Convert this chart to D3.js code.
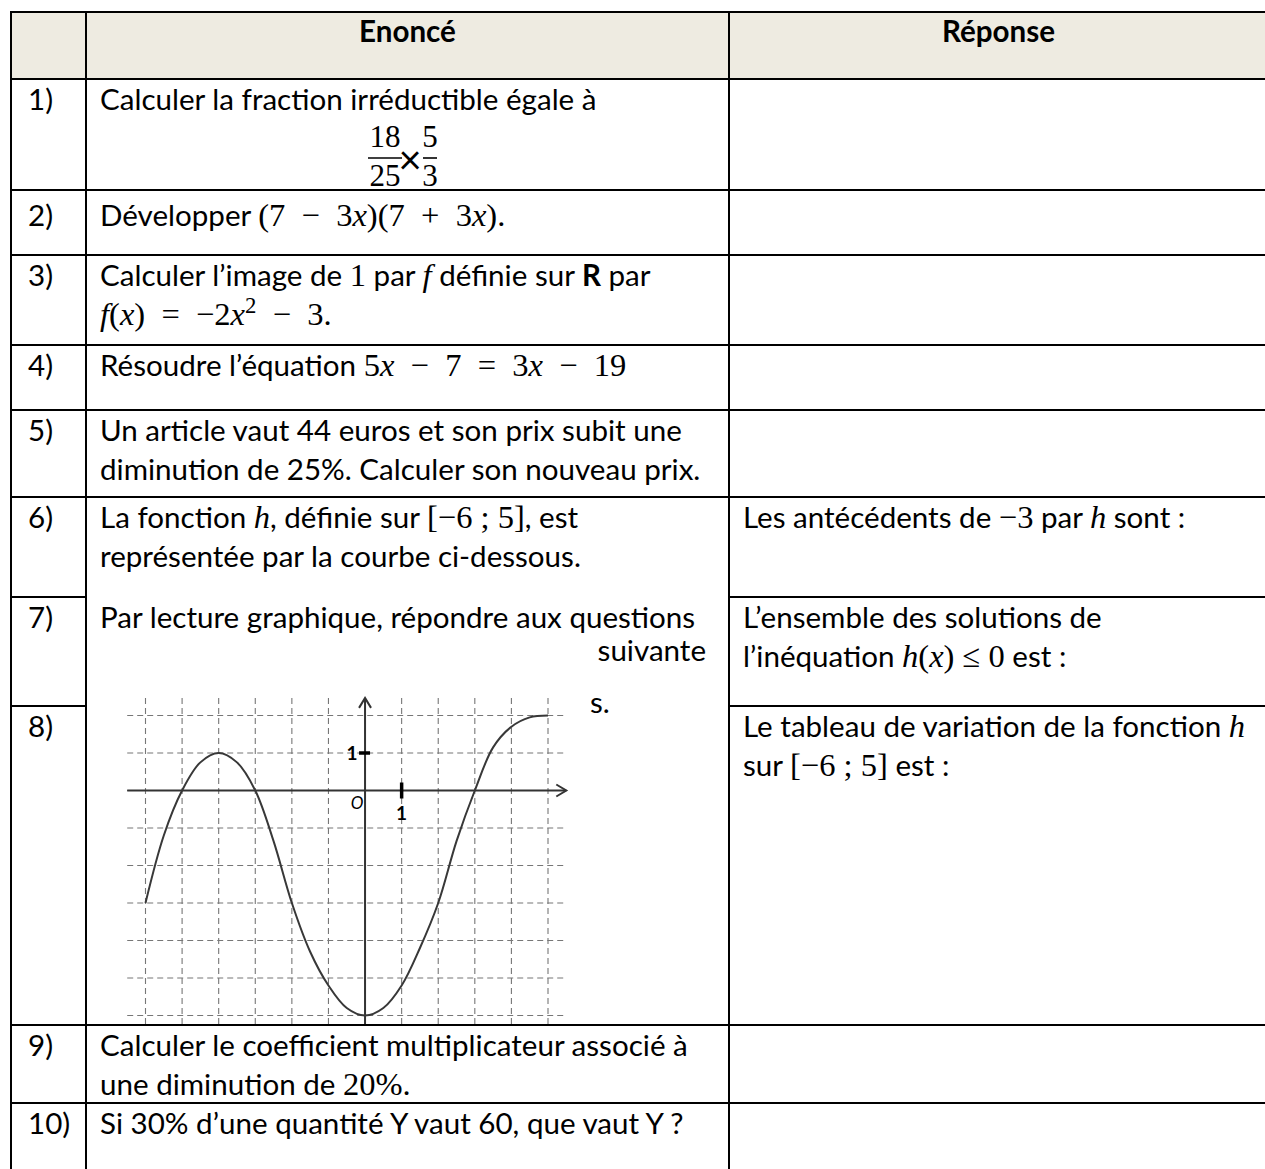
<!DOCTYPE html>
<html lang="fr">
<head>
<meta charset="UTF-8">
<title>Questions flash</title>
<script src="https://d3js.org/d3.v7.min.js"></script>
<style>
  body { margin: 0; background: #fff; }
  svg text { font-family: Lato, "Open Sans", sans-serif; fill: #000; }
  svg .m { font-family: "Liberation Serif", "DejaVu Serif", serif; }
</style>
</head>
<body>
<svg id="sheet" width="1265" height="1169"></svg>
<script>
const width = 1265, height = 1169;

// table layout
const colEdges = [11, 86, 729, 1268];
const rowEdges = [12, 79, 190, 255, 345, 410, 497, 597, 706, 1025, 1103, 1190];
const headers = ["", "Enoncé", "Réponse"];
const labels = ["1)", "2)", "3)", "4)", "5)", "6)", "7)", "8)", "9)", "10)"];

// texte : $...$ = maths, **...** = gras
const enonce = [
  ["Calculer la fraction irréductible égale à"],
  ["Développer $(7 − 3x)(7 + 3x).$"],
  ["Calculer l’image de $1$ par $f$ définie sur **R** par", "$f(x) = −2x^2 − 3.$"],
  ["Résoudre l’équation $5x − 7 = 3x − 19$"],
  ["Un article vaut 44 euros et son prix subit une", "diminution de 25%. Calculer son nouveau prix."],
  ["La fonction $h$, définie sur $[−6 ; 5]$, est", "représentée par la courbe ci-dessous."],
  ["Par lecture graphique, répondre aux questions"],
  [],
  ["Calculer le coefficient multiplicateur associé à", "une diminution de $20%.$"],
  ["Si 30% d’une quantité Y vaut 60, que vaut Y ?"]
];
const reponse = [
  [], [], [], [], [],
  ["Les antécédents de $−3$ par $h$ sont :"],
  ["L’ensemble des solutions de", "l’inéquation $h(x) ≤ 0$ est :"],
  ["Le tableau de variation de la fonction $h$", "sur $[−6 ; 5]$ est :"],
  [], []
];
const wrapTail = ["suivante", "s."];

// fraction 18/25 × 5/3
const fracA = ["18", "25"], fracB = ["5", "3"];

// courbe de h sur [−6 ; 5]
const hx = [-6, -5.5, -5, -4.5, -4, -3.5, -3, -2.5, -2, -1.5, -1, -0.5, 0, 0.5, 1, 1.5, 2, 2.5, 3, 3.5, 4, 4.5, 5];
const hy = [-3, -1.2, 0, 0.75, 1, 0.75, 0, -1.35, -3, -4.3, -5.2, -5.8, -6, -5.8, -5.2, -4.2, -3, -1.35, 0, 1.15, 1.7, 1.95, 2];
const gridX = d3.range(-6, 6);
const gridY = d3.range(-6, 3);

const svg = d3.select("#sheet");

// taille de police calée sur la largeur d'une ligne
const probe = svg.append("text").attr("font-size", 100).text(enonce[4][0]);
const fs = 100 * 582 / probe.node().getComputedTextLength();
probe.remove();
const lineGap = 39;
const mfs = fs * 1.1;

function writeLine(x, y, str, anchor) {
  const t = svg.append("text").attr("x", x).attr("y", y)
    .attr("font-size", fs).attr("text-anchor", anchor || "start");
  let pendingDy = 0;
  const add = (txt, opts) => {
    const s = t.append("tspan").text(txt);
    if (pendingDy) { s.attr("dy", pendingDy); pendingDy = 0; }
    Object.entries(opts).forEach(([k, v]) => s.attr(k, v));
    return s;
  };
  str.split("$").forEach((part, i) => {
    if (i % 2 === 0) {
      part.split("**").forEach((p, j) => {
        if (p) add(p, j % 2 ? { "font-weight": "bold" } : {});
      });
    } else {
      // espaces plus larges autour des opérateurs binaires
      part = part.replace(/ ([−+=]) /g, "\u2002$1\u2002");
      part.split(/([a-z]|\^\d)/).forEach(tok => {
        if (!tok) return;
        if (tok[0] === "^") {
          add(tok.slice(1), { class: "m", "font-size": mfs * 0.7, dy: -mfs * 0.38 });
          pendingDy = mfs * 0.38;
        } else if (/[a-z]/.test(tok)) {
          add(tok, { class: "m", "font-style": "italic", "font-size": mfs });
        } else {
          add(tok, { class: "m", "font-size": mfs });
        }
      });
    }
  });
  return t;
}

// fond de l'en-tête
svg.append("rect")
  .attr("x", colEdges[0]).attr("y", rowEdges[0])
  .attr("width", colEdges[3] - colEdges[0]).attr("height", rowEdges[1] - rowEdges[0])
  .attr("fill", "#eeebe1");

headers.forEach((h, i) => {
  if (!h) return;
  svg.append("text")
    .attr("x", (colEdges[i] + colEdges[i + 1]) / 2).attr("y", rowEdges[0] + 30)
    .attr("text-anchor", "middle").attr("font-size", fs).attr("font-weight", "bold")
    .text(h);
});

labels.forEach((lab, i) => {
  const top = rowEdges[i + 1];
  const base = top + 31 + (i === 1 ? 5 : 0);
  svg.append("text").attr("x", 28).attr("y", base).attr("font-size", fs).text(lab);
  enonce[i].forEach((line, k) => writeLine(100, base + k * lineGap, line));
  reponse[i].forEach((line, k) => writeLine(743, base + k * lineGap, line));
});

// reste de la ligne 7 coupée par l'image
writeLine(706, rowEdges[7] + 64, wrapTail[0], "end");
writeLine(590, rowEdges[7] + 116, wrapTail[1]);

// fraction
const fracY = rowEdges[1] + 68;
[[fracA, 385, 34], [fracB, 430, 14]].forEach(([f, cx, w]) => {
  svg.append("text").attr("class", "m").attr("x", cx).attr("y", fracY)
    .attr("text-anchor", "middle").attr("font-size", fs * 1.05).text(f[0]);
  svg.append("line").attr("x1", cx - w / 2).attr("x2", cx + w / 2)
    .attr("y1", fracY + 11).attr("y2", fracY + 11).attr("stroke", "#000").attr("stroke-width", 1.6);
  svg.append("text").attr("class", "m").attr("x", cx).attr("y", fracY + 39)
    .attr("text-anchor", "middle").attr("font-size", fs * 1.05).text(f[1]);
});
svg.append("text").attr("x", 410).attr("y", fracY + 27).attr("text-anchor", "middle")
  .attr("font-size", fs * 1.35).text("×");

// graphique
const x = d3.scaleLinear().domain([-6, 5]).range([145.5, 548]);
const y = d3.scaleLinear().domain([-6, 2]).range([1015.5, 715.5]);
const g = svg.append("g");

g.selectAll("line.gx").data(gridX).join("line").attr("class", "gx")
  .attr("x1", d => x(d)).attr("x2", d => x(d))
  .attr("y1", y(2.47)).attr("y2", rowEdges[9])
  .attr("stroke", "#777").attr("stroke-width", 1.1).attr("stroke-dasharray", "6,4");
g.selectAll("line.gy").data(gridY).join("line").attr("class", "gy")
  .attr("x1", x(-6.5)).attr("x2", x(5.5))
  .attr("y1", d => y(d)).attr("y2", d => y(d))
  .attr("stroke", "#777").attr("stroke-width", 1.1).attr("stroke-dasharray", "6,4");

// axes
g.append("line").attr("x1", x(-6.5)).attr("x2", x(5.5)).attr("y1", y(0)).attr("y2", y(0))
  .attr("stroke", "#333").attr("stroke-width", 2);
g.append("line").attr("x1", x(0)).attr("x2", x(0)).attr("y1", rowEdges[9]).attr("y2", y(2.47))
  .attr("stroke", "#333").attr("stroke-width", 2);
g.append("path")
  .attr("d", `M${x(5.5) - 10},${y(0) - 6}L${x(5.5)},${y(0)}L${x(5.5) - 10},${y(0) + 6}`)
  .attr("fill", "none").attr("stroke", "#333").attr("stroke-width", 2);
g.append("path")
  .attr("d", `M${x(0) - 6},${y(2.47) + 10}L${x(0)},${y(2.47)}L${x(0) + 6},${y(2.47) + 10}`)
  .attr("fill", "none").attr("stroke", "#333").attr("stroke-width", 2);

// graduations 1
g.append("line").attr("x1", x(0) - 6).attr("x2", x(0) + 5).attr("y1", y(1)).attr("y2", y(1))
  .attr("stroke", "#000").attr("stroke-width", 3.5);
g.append("line").attr("x1", x(1)).attr("x2", x(1)).attr("y1", y(0) - 8).attr("y2", y(0) + 8)
  .attr("stroke", "#000").attr("stroke-width", 3.5);
g.append("text").attr("x", x(0) - 13).attr("y", y(1) + 7).attr("text-anchor", "middle")
  .attr("font-family", "Liberation Sans").attr("font-weight", "bold").attr("font-size", 19).text("1");
g.append("text").attr("x", x(1)).attr("y", y(0) + 29).attr("text-anchor", "middle")
  .attr("font-family", "Liberation Sans").attr("font-weight", "bold").attr("font-size", 19).text("1");
g.append("text").attr("x", x(0) - 8).attr("y", y(0) + 18)
  .attr("text-anchor", "middle").attr("font-style", "italic").attr("font-size", 17)
  .attr("font-family", "Liberation Serif").attr("fill", "#444").text("O");

// courbe
const pts = hx.map((v, i) => [v, hy[i]]);
g.append("path").datum(pts)
  .attr("d", d3.line().x(d => x(d[0])).y(d => y(d[1])).curve(d3.curveCatmullRom))
  .attr("fill", "none").attr("stroke", "#383838").attr("stroke-width", 2);

// traits du tableau
const hLines = [];
rowEdges.forEach((ry, r) => {
  [0, 1, 2].forEach(c => {
    if (c === 1 && (r === 7 || r === 8)) return;
    hLines.push({ x1: colEdges[c], x2: colEdges[c + 1], y: ry });
  });
});
svg.selectAll("line.h").data(hLines).join("line").attr("class", "h")
  .attr("x1", d => d.x1 - 1).attr("x2", d => d.x2 + 1).attr("y1", d => d.y).attr("y2", d => d.y)
  .attr("stroke", "#000").attr("stroke-width", 2);
svg.selectAll("line.v").data(colEdges).join("line").attr("class", "v")
  .attr("x1", d => d).attr("x2", d => d).attr("y1", rowEdges[0] - 1).attr("y2", height + 5)
  .attr("stroke", "#000").attr("stroke-width", 2);
</script>
</body>
</html>
